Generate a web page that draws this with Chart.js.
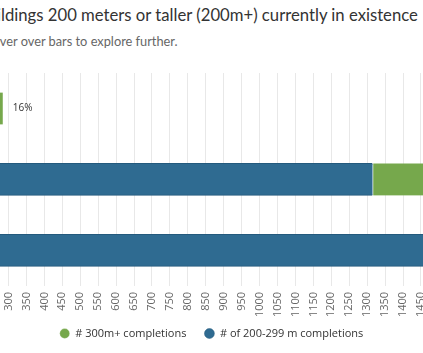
<!DOCTYPE html>
<html lang="en">
<head>
<meta charset="UTF-8">
<title>Buildings 200 meters or taller</title>
<script src="https://cdn.jsdelivr.net/npm/chart.js@4"></script>
<style>
    html, body {
        margin: 0;
        padding: 0;
        background: #fff;
        overflow: hidden;
    }
    #wrap {
        position: relative;
        width: 423px;
        height: 353px;
        overflow: hidden;
    }
    #title {
        position: absolute;
        top: 5px;
        white-space: nowrap;
        font-family: Lato, sans-serif;
        font-size: 16.7px;
        color: #333;
    }
    #subtitle {
        position: absolute;
        top: 33px;
        white-space: nowrap;
        font-family: Lato, sans-serif;
        font-size: 12.8px;
        color: #666;
    }
    #chartBox {
        position: absolute;
        left: 0;
        top: 0;
        width: 423px;
        height: 362px;
    }
</style>
</head>
<body>
<div id="wrap">
    <div id="title">Buildings 200 meters or taller (200m+) currently in existence</div>
    <div id="subtitle">Hover over bars to explore further.</div>
    <div id="chartBox"><canvas id="chart"></canvas></div>
</div>
<script>
// Данные (подписи категорий обрезаны слева в оригинале)
const categories = ['Group 1', 'Group 2', 'Group 3'];
const completions300 = [284, 260, 0];    // # 300m+ completions
const completions200 = [0, 1315, 1700];  // # of 200-299 m completions
const shareLabels = ['16%', '', ''];

// Заголовок обрезан слева: "Bui" и "Ho" уходят за край
function cropLeft(id, hidden, visibleX) {
    const el = document.getElementById(id);
    const probe = document.createElement('span');
    probe.style.font = getComputedStyle(el).font;
    probe.style.position = 'absolute';
    probe.style.visibility = 'hidden';
    probe.textContent = hidden;
    document.body.appendChild(probe);
    el.style.left = (visibleX - probe.getBoundingClientRect().width) + 'px';
    probe.remove();
}
cropLeft('title', 'Bui', 1);
cropLeft('subtitle', 'Ho', 0);

// Подписи с процентами справа от конца полосы
const shareLabelPlugin = {
    id: 'shareLabels',
    afterDatasetsDraw(chart) {
        const { ctx, scales: { x, y } } = chart;
        ctx.save();
        ctx.font = '10px "Open Sans"';
        ctx.fillStyle = '#333';
        ctx.textBaseline = 'middle';
        categories.forEach((c, i) => {
            if (!shareLabels[i]) return;
            const total = completions300[i] + completions200[i];
            ctx.fillText(shareLabels[i], x.getPixelForValue(total) + 10, y.getPixelForValue(i));
        });
        ctx.restore();
    }
};

// Поднимаем легенду ближе к подписям оси
const legendShiftPlugin = {
    id: 'legendShift',
    afterLayout(chart) {
        chart.legend.top -= 13;
        chart.legend.bottom -= 13;
    }
};

new Chart(document.getElementById('chart'), {
    type: 'bar',
    data: {
        labels: categories,
        datasets: [
            {
                label: '# of 200-299 m completions',
                data: completions200,
                backgroundColor: '#2f6b91',
                borderColor: '#245a7d',
                borderWidth: { top: 1, bottom: 1, left: 0, right: 0 },
                borderSkipped: false,
                barThickness: 32
            },
            {
                label: '# 300m+ completions',
                data: completions300,
                backgroundColor: '#76a84c',
                borderColor: '#ffffff',
                borderWidth: { left: 1, top: 0, bottom: 0, right: 0 },
                borderSkipped: false,
                barThickness: 32
            }
        ]
    },
    options: {
        indexAxis: 'y',
        responsive: true,
        maintainAspectRatio: false,
        animation: false,
        layout: { padding: { top: 73, left: 0, right: 0, bottom: 0 } },
        scales: {
            x: {
                stacked: true,
                min: 276.3,
                max: 1455.6,
                grid: { color: '#e8e8e8', drawTicks: false },
                border: { display: false },
                ticks: {
                    stepSize: 50,
                    includeBounds: false,
                    autoSkip: false,
                    minRotation: 90,
                    maxRotation: 90,
                    padding: 6,
                    color: '#666',
                    font: { family: '"Open Sans"', size: 11 },
                    callback: value => String(value)
                },
                afterFit(scale) {
                    scale.paddingLeft = 0;
                    scale.paddingRight = 0;
                }
            },
            y: {
                stacked: true,
                display: false
            }
        },
        plugins: {
            legend: {
                position: 'bottom',
                reverse: true,
                labels: {
                    usePointStyle: true,
                    pointStyle: 'circle',
                    boxWidth: 10,
                    boxHeight: 7,
                    padding: 18,
                    color: '#333',
                    font: { family: '"Open Sans"', size: 11 }
                }
            },
            tooltip: { enabled: false }
        }
    },
    plugins: [shareLabelPlugin, legendShiftPlugin]
});
</script>
</body>
</html>
